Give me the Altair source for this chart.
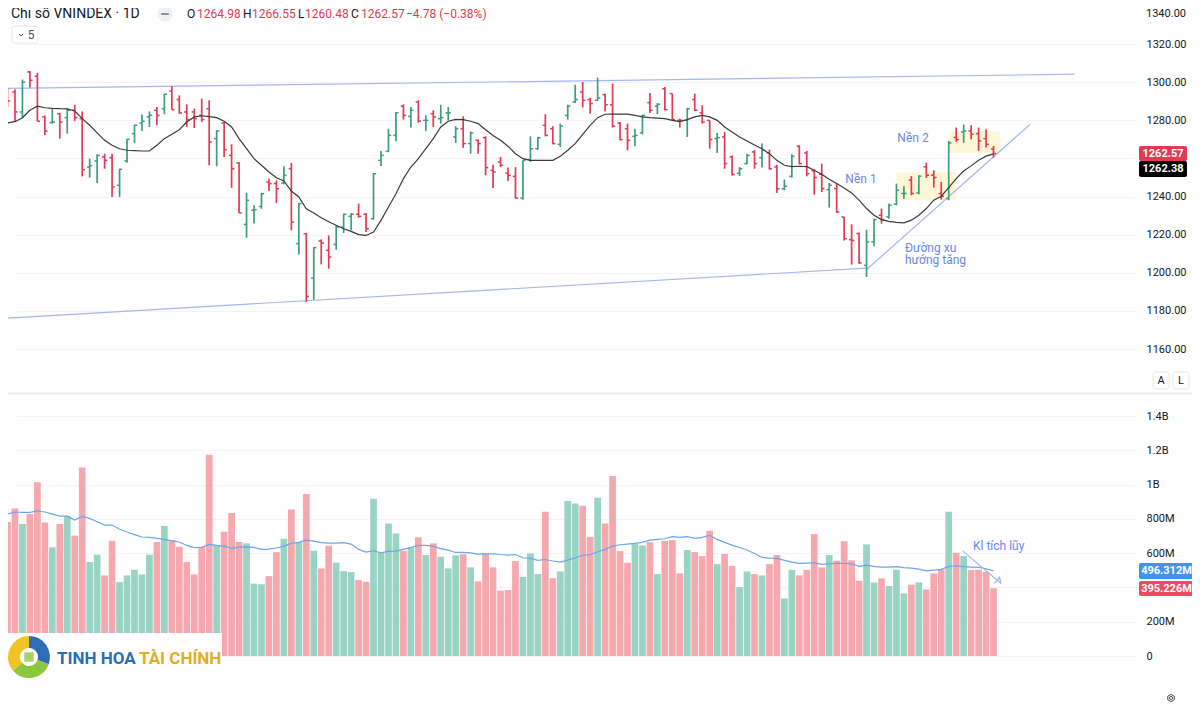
import altair as alt
import pandas as pd

OPEN = [1292.6,1294.9,1284.4,1305.4,1303.1,1281.8,1278.8,1283.5,1281.4,1285.3,
1280.9,1255.5,1258.7,1260.8,1260.4,1245.9,1258.7,1273.0,1278.6,1281.8,
1285.3,1286.1,1295.4,1290.9,1284.4,1284.4,1282.6,1286.1,1270.4,1278.6,
1261.6,1257.6,1225.4,1232.8,1234.8,1247.6,1246.8,1247.1,1254.6,1215.3,
1220.5,1197.2,1216.7,1211.8,1214.9,1224.0,1229.6,1230.7,1230.7,1228.4,
1259.0,1263.7,1272.1,1287.4,1282.1,1289.6,1280.0,1283.5,1280.9,1283.9,
1271.3,1275.6,1267.8,1269.5,1270.9,1253.8,1258.1,1252.3,1250.6,1239.2,
1259.4,1265.1,1277.4,1275.6,1267.4,1282.6,1289.6,1294.9,1290.9,1290.5,
1293.5,1288.2,1278.6,1275.6,1271.6,1273.4,1289.3,1287.4,1296.6,1294.0,
1280.0,1280.0,1290.9,1283.9,1280.0,1270.4,1271.3,1260.8,1252.3,1257.3,
1263.4,1260.4,1262.9,1255.5,1244.1,1250.6,1266.4,1262.9,1253.5,1251.7,
1243.6,1244.2,1229.3,1217.4,1220.6,1203.9,1216.2,1230.2,1229.3,1236.0,
1241.6,1248.6,1241.9,1255.6,1251.2,1241.6,1239.0,1271.0,1273.9,1274.4,
1273.0,1270.4,1264.98]
HIGH = [1297.2,1296.3,1301.4,1305.9,1304.9,1282.6,1286.1,1283.9,1286.1,1288.2,
1284.7,1259.9,1262.2,1262.5,1262.5,1254.6,1270.4,1277.7,1283.0,1284.7,
1287.0,1294.0,1298.0,1293.1,1288.4,1286.1,1291.4,1290.5,1274.8,1279.1,
1267.4,1258.1,1242.0,1235.4,1241.9,1249.4,1248.5,1255.9,1257.6,1236.6,
1220.9,1213.5,1217.5,1219.6,1224.9,1231.0,1231.4,1236.3,1231.4,1252.4,
1263.9,1275.6,1284.4,1288.4,1287.0,1290.5,1282.6,1285.3,1288.2,1287.0,
1276.9,1282.1,1274.2,1269.9,1271.6,1256.7,1260.8,1255.2,1255.5,1259.0,
1271.6,1271.3,1283.2,1276.9,1278.3,1288.2,1298.7,1300.1,1291.9,1302.4,
1294.0,1299.3,1279.1,1278.3,1275.6,1283.0,1294.4,1289.1,1297.5,1294.0,
1280.9,1286.6,1294.0,1287.9,1280.0,1273.4,1273.9,1261.6,1255.5,1262.5,
1264.3,1267.8,1264.6,1256.7,1248.9,1262.2,1266.9,1263.9,1254.2,1257.3,
1247.1,1246.8,1229.3,1225.4,1221.1,1222.6,1228.4,1233.7,1236.3,1246.8,
1245.4,1250.7,1251.2,1257.8,1253.8,1247.7,1269.2,1276.2,1277.8,1277.4,
1276.2,1275.3,1266.55]
LOW = [1287.0,1279.1,1281.4,1297.2,1279.5,1272.3,1278.3,1270.4,1273.0,1279.5,
1250.6,1249.9,1247.1,1254.6,1239.8,1239.8,1257.8,1268.1,1274.4,1276.5,
1277.4,1283.2,1285.6,1283.5,1276.5,1276.0,1279.1,1256.4,1255.9,1260.8,
1244.6,1231.4,1218.4,1225.8,1233.6,1242.9,1236.6,1246.4,1222.3,1209.5,
1184.6,1185.9,1204.4,1202.1,1212.1,1220.9,1222.3,1228.9,1221.4,1227.9,
1256.0,1263.4,1269.0,1280.4,1276.2,1278.8,1274.4,1276.5,1278.3,1280.0,
1268.1,1265.6,1262.5,1262.5,1251.1,1244.5,1255.5,1248.2,1238.9,1238.3,
1258.1,1264.6,1271.6,1267.4,1266.0,1280.4,1289.1,1286.7,1283.5,1290.2,
1284.7,1276.2,1269.5,1264.3,1266.4,1272.6,1283.9,1283.2,1285.3,1280.0,
1276.2,1271.3,1284.9,1278.3,1265.1,1262.9,1254.6,1251.1,1250.8,1256.9,
1254.6,1255.2,1254.1,1241.9,1243.3,1249.9,1256.9,1250.6,1241.0,1242.4,
1234.2,1231.4,1217.0,1204.3,1204.8,1197.8,1213.9,1225.8,1228.4,1235.4,
1238.9,1240.7,1241.2,1249.8,1244.7,1238.4,1238.1,1268.7,1268.2,1270.1,
1264.0,1265.7,1260.48]
CLOSE = [1290.2,1284.4,1300.1,1301.0,1279.5,1274.4,1279.1,1279.1,1285.3,1281.4,
1254.1,1256.2,1261.6,1259.0,1245.0,1254.3,1270.0,1277.4,1279.5,1282.6,
1282.6,1293.7,1285.6,1283.9,1280.4,1280.9,1280.4,1268.6,1274.4,1264.6,
1254.6,1231.4,1238.0,1233.1,1241.5,1246.8,1244.1,1251.1,1226.6,1236.3,
1187.6,1213.2,1215.6,1208.3,1224.0,1230.7,1230.7,1229.6,1223.1,1252.0,
1261.6,1272.1,1284.0,1282.6,1285.3,1279.6,1280.0,1281.8,1281.4,1283.9,
1275.6,1267.8,1273.4,1267.8,1255.2,1252.9,1256.4,1251.1,1239.2,1259.0,
1265.1,1270.9,1272.1,1267.8,1277.0,1287.5,1290.9,1290.5,1288.8,1291.7,
1288.2,1276.9,1269.9,1269.5,1272.1,1282.6,1285.3,1288.4,1285.6,1280.4,
1280.0,1286.1,1285.3,1279.1,1269.9,1270.9,1257.3,1251.6,1254.6,1261.6,
1257.3,1264.3,1254.6,1244.1,1245.4,1261.1,1257.3,1252.0,1250.0,1244.2,
1245.9,1231.9,1217.9,1217.0,1205.2,1216.2,1227.9,1227.9,1235.4,1243.3,
1241.6,1241.6,1250.7,1251.2,1250.0,1240.1,1268.2,1269.9,1274.4,1272.7,
1269.2,1267.4,1262.57]
DIRECTION = list(
    "RRGRRRGRGR" "RGGRRGGGGG" "RGRRRRRRGR" "RRGGGRRGRG"
    "RGRRGGGRRG" "GGGRGRGRGG" "GRGRRRRRRG" "GGRRGGGRRG"
    "RRRRGGRGRR" "RGRRRGRRGG" "RGRRGGRRRR" "GRRRRGGRGG"
    "GRGRRRGRGR" "RRR")
VOLUME = [781,861,770,828,1013,779,634,770,816,702,
1100,548,591,470,672,431,470,503,476,591,
665,758,676,637,548,476,637,1174,647,725,
834,665,657,422,418,466,606,684,855,665,
945,614,511,643,544,495,489,443,433,917,
602,773,715,614,633,692,589,657,579,511,
587,594,517,435,598,517,381,385,554,462,
598,478,841,454,493,904,890,876,695,923,
773,1050,612,544,653,645,664,478,672,676,
482,618,606,583,731,536,595,526,402,493,
478,470,536,589,336,503,470,503,711,517,
589,556,670,558,439,651,429,453,408,503,
365,416,429,388,482,505,841,602,583,501,
503,491,395.226]
SMA = [1278.6,1279.3,1281.4,1285.3,1287.4,1286.6,1286.3,1286.1,1286.0,1284.9,
1280.9,1277.4,1273.4,1269.5,1266.9,1265.1,1264.3,1264.1,1263.9,1263.9,
1266.9,1270.4,1272.7,1275.1,1279.1,1281.8,1282.4,1281.9,1281.4,1279.5,
1276.5,1270.4,1265.1,1259.9,1256.4,1252.9,1249.9,1248.2,1242.9,1239.8,
1233.6,1231.4,1228.9,1226.8,1224.9,1223.1,1221.7,1220.0,1219.6,1221.4,
1227.5,1234.5,1241.5,1249.4,1255.5,1259.9,1265.1,1270.4,1276.5,1279.5,
1280.5,1280.4,1279.5,1278.3,1275.1,1272.1,1269.5,1266.4,1262.5,1259.9,
1259.0,1259.0,1259.0,1259.0,1261.1,1264.3,1267.8,1272.6,1277.4,1281.4,
1283.2,1283.3,1283.3,1283.3,1282.6,1281.8,1281.4,1281.2,1280.9,1280.0,
1279.3,1280.4,1281.8,1282.6,1281.8,1280.0,1276.5,1273.9,1271.3,1269.2,
1267.1,1265.1,1262.5,1259.0,1256.4,1255.7,1255.9,1255.7,1253.8,1251.7,
1249.1,1246.8,1244.5,1241.9,1238.1,1233.7,1230.2,1227.9,1227.0,1226.5,
1226.2,1227.6,1230.2,1233.7,1238.1,1240.2,1244.7,1249.4,1253.4,1256.1,
1259.1,1261.2,1262.38]
VMA = [828,840,838,838,847,840,828,816,816,793,
814,803,783,764,764,739,723,708,694,692,
686,680,672,665,645,632,634,651,645,641,
628,635,637,634,622,624,630,641,657,663,
676,670,661,659,659,661,653,622,606,614,
602,610,612,622,633,645,645,641,626,618,
604,604,602,594,596,596,592,589,592,573,
569,558,563,554,548,559,573,587,591,608,
622,641,649,653,657,663,676,680,684,696,
692,696,686,692,705,680,663,647,633,618,
598,575,571,569,558,548,540,542,544,534,
538,540,540,538,523,530,523,519,519,521,
515,513,507,497,501,505,523,526,521,519,
517,509,496.312]
TICK_POS = [5,15,25,38,48,60,70,79,89,102,112,122,133,145]
TICK_TXT = ["17","Tháng 7","15","Tháng Tám","15","Tháng 9","15","Tháng 10","15",
            "Tháng 11","15","Tháng Mười hai","16","2025"]
PRICE_TICKS = [1160,1180,1200,1220,1240,1260,1280,1300,1320]
VOL_TICKS = [0,200,400,600,800,1000,1200,1400]
VOL_TXT = ["0","200M","","600M","800M","1B","1.2B","1.4B"]
CH_UP_X, CH_UP_P = [-0.6,142.9], [1296.7,1304.2]
CH_LO_X, CH_LO_P = [-0.6,114.9], [1176.1,1202.4]
TREND_X, TREND_P = [114.9,136.9], [1201.3,1277.9]
ZONE1 = dict(x=119.0,x2=127.0,p=1252.6,p2=1238.0)
ZONE2 = dict(x=126.0,x2=132.9,p=1274.3,p2=1262.9)
ARROW_X, ARROW_V = [127.9,133.0], [612,423]
HEAD_X, HEAD_V = [132.1,133.0,132.8], [423,423,459]

FONT = "Roboto"
TXT = "#131722"
RED, GREEN = "#e23a52", "#3f9b82"
VRED, VGREEN = "#f6a8af", "#98d3c4"
NOTE = "#6a86e8"
CHAN = "#a3b7f0"
GRID = "#f3f4f7"

df = pd.DataFrame(dict(i=range(133), o=OPEN, h=HIGH, l=LOW, c=CLOSE, d=DIRECTION,
                       v=VOLUME, sma=SMA, vma=VMA))
df["il"] = df.i - 0.36
df["ir"] = df.i + 0.36
df["bl"] = df.i - 0.45
df["br"] = df.i + 0.45
df["z"] = 0

XS = alt.Scale(domain=[0,150], range=[-0.5,1120], nice=False, zero=False)
PS = alt.Scale(domain=[1160,1340], range=[341,-2], nice=False, zero=False)
VS = alt.Scale(domain=[0,1400], range=[648,408], nice=False, zero=False)

x_expr = "{" + ",".join(f"'{p}':'{t}'" for p, t in zip(TICK_POS, TICK_TXT)) + "}[datum.value]"
v_expr = "{" + ",".join(f"'{p}':'{t}'" for p, t in zip(VOL_TICKS, VOL_TXT)) + "}[datum.value]"

XA = alt.Axis(values=TICK_POS, labelExpr=x_expr, title=None, grid=True, gridColor=GRID,
              domain=False, ticks=False, labelPadding=11, labelFontSize=11, labelFont=FONT,
              labelColor=TXT, labelOverlap=False, labelFontWeight=alt.expr("datum.value==145 ? 'bold' : 'normal'"))
PA = alt.Axis(orient="right", values=PRICE_TICKS, format=".2f", title=None, grid=True, gridColor=GRID,
              domain=False, ticks=False, labelPadding=10, labelFontSize=11, labelFont=FONT,
              labelColor=TXT, labelOverlap=False)
VA = alt.Axis(orient="right", values=VOL_TICKS, labelExpr=v_expr, title=None, grid=True, gridColor=GRID,
              domain=False, ticks=False, labelPadding=10, labelFontSize=11, labelFont=FONT,
              labelColor=TXT, labelOverlap=False)

def X(f): return alt.X(f"{f}:Q", scale=XS, axis=None)
def P(f, axis=None): return alt.Y(f"{f}:Q", scale=PS, axis=axis)
def V(f, axis=None): return alt.Y(f"{f}:Q", scale=VS, axis=axis)
def N(f): return alt.X2(f)
COL = lambda a, b: alt.Color("d:N", scale=alt.Scale(domain=["R","G"], range=[a,b]), legend=None)

base = alt.Chart(df)
one = alt.Chart(pd.DataFrame({"a":[0]}))
layers = []

# axes first (grid below the marks)
layers.append(base.mark_rule(opacity=0).encode(x=alt.X("i:Q", scale=XS, axis=XA), y=P("h", PA)))
layers.append(base.mark_rule(opacity=0).encode(x=X("i"), y=V("v", VA)))

# highlight zones
for z in (ZONE1, ZONE2):
    zd = alt.Chart(pd.DataFrame([z]))
    layers.append(zd.mark_rect(color="#fdf6d2", opacity=0.9).encode(
        x=X("x"), x2=N("x2"), y=P("p"), y2=alt.Y2("p2")))

# channel lines
for xs, ps in ((CH_UP_X, CH_UP_P), (CH_LO_X, CH_LO_P), (TREND_X, TREND_P)):
    d = alt.Chart(pd.DataFrame(dict(x=xs, p=ps)))
    layers.append(d.mark_line(color=CHAN, strokeWidth=1.2).encode(x=X("x"), y=P("p")))

# OHLC
layers.append(base.mark_rule(strokeWidth=1.7).encode(x=X("i"), y=P("h"), y2=alt.Y2("l"), color=COL(RED, GREEN)))
layers.append(base.mark_rule(strokeWidth=1.5).encode(x=X("il"), x2=N("i"), y=P("o"), color=COL(RED, GREEN)))
layers.append(base.mark_rule(strokeWidth=1.5).encode(x=X("i"), x2=N("ir"), y=P("c"), color=COL(RED, GREEN)))
layers.append(base.mark_line(color="#3a3a3a", strokeWidth=1.2).encode(x=X("i"), y=P("sma")))

# volume
layers.append(base.mark_rect().encode(x=X("bl"), x2=N("br"), y=V("v"), y2=alt.Y2("z"), color=COL(VRED, VGREEN)))
layers.append(base.mark_line(color="#6ba5ec", strokeWidth=1.2).encode(x=X("i"), y=V("vma")))
for xs, vs in ((ARROW_X, ARROW_V), (HEAD_X, HEAD_V)):
    d = alt.Chart(pd.DataFrame(dict(x=xs, p=vs)))
    layers.append(d.mark_line(color=CHAN, strokeWidth=1.2).encode(x=X("x"), y=V("p")))

# pixel-placed furniture, coordinates are page coordinates minus the 8px margin
def box(x0, y0, x1, y1, fill, stroke=None, r=0):
    kw = dict(fill=fill, cornerRadius=r)
    if stroke:
        kw.update(stroke=stroke, strokeWidth=1)
    return one.mark_rect(**kw).encode(x=alt.value(x0-8), x2=alt.value(x1-8), y=alt.value(y0-8), y2=alt.value(y1-8))

def label(text, px, py, color=TXT, size=11, align="left", weight="normal", font=FONT):
    return one.mark_text(text=text, color=color, fontSize=size, align=align, baseline="middle",
                         fontWeight=weight, font=font).encode(x=alt.value(px-8), y=alt.value(py-8))

def icon(shape, px, py, size, stroke=TXT, fill=None, sw=1):
    kw = dict(shape=shape, size=size, stroke=stroke, strokeWidth=sw, opacity=1)
    kw.update(filled=fill is not None)
    if fill is not None:
        kw.update(fill=fill)
    return one.mark_point(**kw).encode(x=alt.value(px-8), y=alt.value(py-8))

# logo plate and logo
layers.append(box(3, 633, 222, 680, "#ffffff"))
logo = alt.Chart(pd.DataFrame(dict(v=[110,130,120], c=["#2e6db5","#f2c324","#8dc63f"])))
layers.append(logo.mark_arc(innerRadius=9, outerRadius=21).encode(
    theta=alt.Theta("v:Q"), color=alt.Color("c:N", scale=None),
    x=alt.value(29-8), y=alt.value(657-8)))
layers.append(icon("square", 29, 657, 70, stroke="#a5d46a", fill="#a5d46a"))
layers.append(label("TINH HOA", 57, 659, "#2a6db5", 17, weight="bold"))
layers.append(label("TÀI CHÍNH", 139, 659, "#e0ae22", 17, weight="bold"))

# pane separator
layers.append(box(8, 392.5, 1192, 394.5, "#e9ebf0"))

# annotations
layers.append(label("Nền 1", 861, 179, NOTE, 12, "center"))
layers.append(label("Nền 2", 913, 138, NOTE, 12, "center"))
layers.append(label("Đường xu", 905, 248, NOTE, 12))
layers.append(label("hướng tăng", 905, 260, NOTE, 12))
layers.append(label("Kl tích lũy", 973, 546, NOTE, 12))

# price tags
layers.append(box(1139, 146, 1187, 161, RED, r=2))
layers.append(label("1262.57", 1163, 153.5, "#ffffff", 11, "center", "bold"))
layers.append(box(1139, 161, 1187, 177, "#000000", r=2))
layers.append(label("1262.38", 1163, 169, "#ffffff", 11, "center", "bold"))
layers.append(box(1139, 563, 1194, 579, "#3f94f0", r=2))
layers.append(label("496.312M", 1166.5, 571, "#ffffff", 11, "center", "bold"))
layers.append(box(1139, 581, 1194, 596, "#ef4a60", r=2))
layers.append(label("395.226M", 1166.5, 588.5, "#ffffff", 11, "center", "bold"))
layers.append(label("1340.00", 1146, 14))

# A / L buttons and settings icon
layers.append(box(1153, 372, 1169, 389, "#ffffff", "#e6e8ee", 3))
layers.append(label("A", 1161, 381, size=11, align="center"))
layers.append(box(1173, 372, 1189, 389, "#ffffff", "#e6e8ee", 3))
layers.append(label("L", 1181, 381, size=11, align="center"))
layers.append(icon("M-1,-0.55L0,-1.1L1,-0.55L1,0.55L0,1.1L-1,0.55Z", 1171, 698, 42, stroke="#4a4e5a"))
layers.append(icon("circle", 1171, 698, 10, stroke="#4a4e5a"))

# header legend
layers.append(label("Chỉ số VNINDEX · 1D", 11, 14, size=14))
layers.append(icon("circle", 165, 14, 200, stroke="#eef0f3", fill="#eef0f3"))
layers.append(box(161, 13, 169, 15, "#8a8e98", r=1))
for t, px, col in (("O",187,TXT),("1264.98",197,RED),("H",243,TXT),("1266.55",252,RED),
                   ("L",298,TXT),("1260.48",305,RED),("C",351,TXT),("1262.57",361,RED),
                   ("−4.78 (−0.38%)",406,RED)):
    layers.append(label(t, px, 14, col, 12))
layers.append(box(12, 26, 38, 43, "#ffffff", "#e6e8ee", 3))
layers.append(icon("M-1,-0.5L0,0.5L1,-0.5", 21, 35, 18, stroke="#4a4e5a"))
layers.append(label("5", 31, 34.5, "#4a4e5a", 12, "center"))

chart = alt.layer(*layers).resolve_scale(
    y="independent", color="independent", theta="independent"
).properties(
    width=1128, height=672,
    autosize=alt.AutoSizeParams(type="none"),
    padding={"left":0,"top":0,"right":56,"bottom":22},
    background="#ffffff",
).configure_view(stroke=None)

chart.save("out.html", embed_options={"renderer": "svg", "actions": False})
